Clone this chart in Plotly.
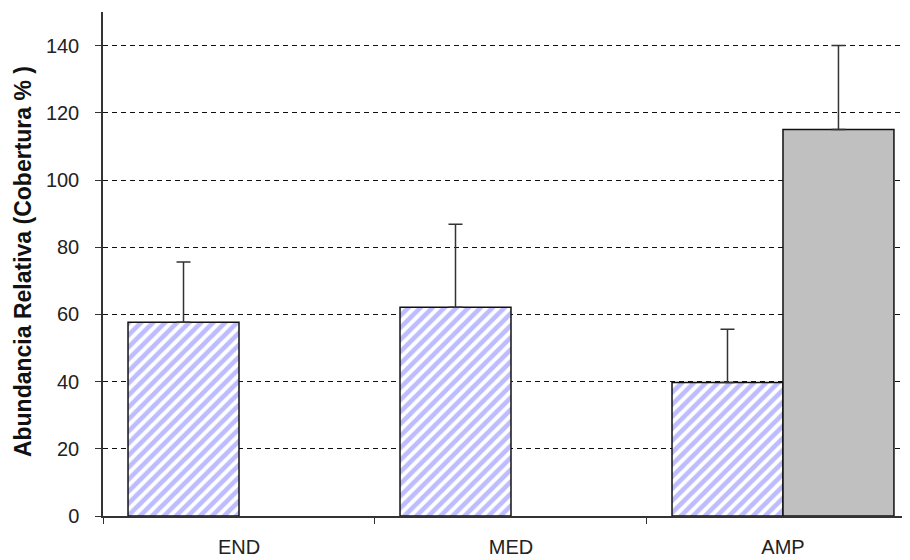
import plotly.graph_objects as go

categories = ["END", "MED", "AMP"]
hatched_values = [57.7, 62.1, 39.7]
hatched_err = [17.9, 24.7, 15.9]
grey_values = [None, None, 115.0]
grey_err = [0, 0, 25.0]
y_ticks = [0, 20, 40, 60, 80, 100, 120, 140]

fig = go.Figure()
fig.add_trace(go.Bar(
    x=categories, y=hatched_values,
    marker=dict(color="white", line=dict(color="#111111", width=1.5),
                pattern=dict(shape="/", fgcolor="#7a7aff", bgcolor="white",
                             size=8.5, solidity=0.55, fillmode="overlay")),
    error_y=dict(type="data", array=hatched_err, arrayminus=[0, 0, 0], symmetric=False,
                 color="#333333", thickness=1.5, width=7),
    showlegend=False,
))
fig.add_trace(go.Bar(
    x=categories, y=grey_values,
    marker=dict(color="#c0c0c0", line=dict(color="#111111", width=1.5)),
    error_y=dict(type="data", array=grey_err, arrayminus=[0, 0, 0], symmetric=False,
                 color="#333333", thickness=1.5, width=7),
    showlegend=False,
))

fig.update_layout(
    width=910, height=560,
    margin=dict(l=95, r=8, t=4, b=52, autoexpand=False),
    paper_bgcolor="white", plot_bgcolor="white",
    barmode="group", bargap=0.184, bargroupgap=0,
    font=dict(family="Liberation Sans, Arial, sans-serif", size=20, color="#222222"),
    xaxis=dict(
        type="category", range=[-0.5, 2.467], automargin=False,
        showline=True, linecolor="#333333", linewidth=1.5,
        ticks="outside", tickson="boundaries", ticklen=6, tickcolor="#333333",
        showgrid=False, ticklabelstandoff=12,
        tickfont=dict(size=20, color="#222222"),
    ),
    yaxis=dict(
        range=[0, 150], tickvals=y_ticks, automargin=False,
        showline=True, linecolor="#333333", linewidth=1.5,
        ticks="outside", ticklen=6, tickcolor="#333333",
        showgrid=True, gridcolor="#111111", griddash="5px,4px", gridwidth=1,
        zeroline=False, ticklabelstandoff=12,
        tickfont=dict(size=20, color="#222222"),
    ),
    annotations=[dict(
        text="<b>Abundancia Relativa (Cobertura % )</b>",
        xref="paper", yref="paper", x=-0.099, y=0.504,
        xanchor="center", yanchor="middle", textangle=-90, showarrow=False,
        font=dict(size=23, color="#111111"),
    )],
)

fig.write_html("out.html")
